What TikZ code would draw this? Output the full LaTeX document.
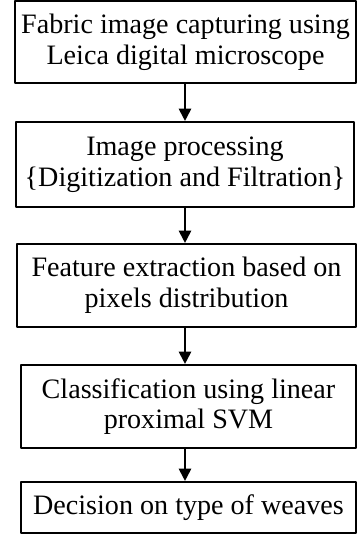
\documentclass[tikz,border=0pt]{standalone}
\usepackage{fontspec}
\setmainfont{Liberation Serif}
\usetikzlibrary{arrows.meta}
\tikzset{
	stepbox/.style={draw,line width=1.2pt,rectangle,align=center,inner sep=0pt,
		font=\fontsize{16}{17.5}\selectfont},
	arr/.style={line width=1.1pt,-{Triangle[length=7pt,width=7pt]}}
}
\begin{document}
\begin{tikzpicture}[line cap=round,line join=round,x=0.02cm,y=-0.02cm]
		\useasboundingbox (0,0) rectangle (357,535);
		\node[stepbox,minimum width=6.82cm,minimum height=1.64cm] (capture) at (185.5,42) {Fabric image capturing using\\Leica digital microscope};
		\node[stepbox,minimum width=6.76cm,minimum height=1.70cm] (process) at (185,164.5) {Image processing\\\{Digitization and Filtration\}};
		\node[stepbox,minimum width=6.78cm,minimum height=1.66cm] (feature) at (186.5,285.5) {Feature extraction based on\\pixels distribution};
		\node[stepbox,minimum width=6.70cm,minimum height=1.66cm] (classify) at (188.5,406.5) {Classification using linear\\proximal SVM};
		\node[stepbox,minimum width=6.70cm,minimum height=1.02cm] (decision) at (188.5,507.5) {Decision on type of weaves};
		\draw[arr] (capture.south -| process.south) -- (process.north);
		\draw[arr] (process.south) -- (process.south |- feature.north);
		\draw[arr] (feature.south -| process.south) -- (process.south |- classify.north);
		\draw[arr] (classify.south -| process.south) -- (process.south |- decision.north);
		\end{tikzpicture}
\end{document}
